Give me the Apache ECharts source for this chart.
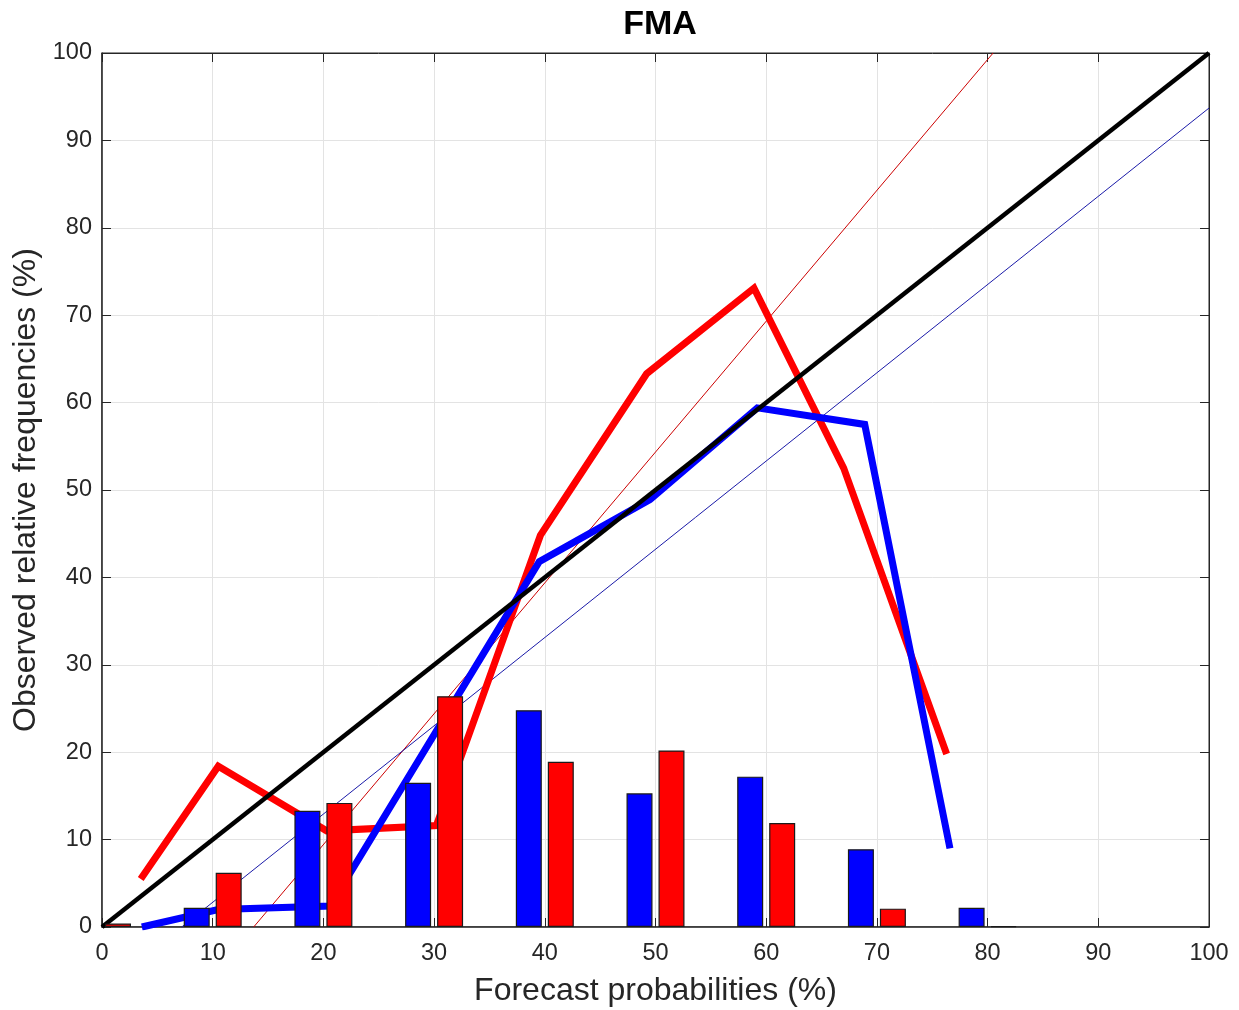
<!DOCTYPE html>
<html>
<head>
<meta charset="utf-8">
<title>FMA</title>
<script src="https://cdn.jsdelivr.net/npm/echarts@6/dist/echarts.min.js"></script>
<style>
    html, body { margin: 0; padding: 0; background: #fff; }
    #chart { width: 1239px; height: 1010px; }
</style>
</head>
<body>
<div id="chart"></div>
<script>
// bins / tick values
var probs = [0, 10, 20, 30, 40, 50, 60, 70, 80, 90, 100];
// histogram bars (%), null = empty bin
var blueBars = [null, 2.2, 13.3, 16.5, 24.8, 15.3, 17.2, 8.9, 2.2, null, null];
var redBars = [0.4, 6.2, 14.2, 26.4, 18.9, 20.2, 11.9, 2.1, 0.1, null, null];

// reliability curves
var redX = [3.5, 10.5, 20.3, 30.2, 39.6, 49.2, 58.9, 67.0, 76.3];
var redY = [5.5, 18.4, 11.0, 11.6, 44.8, 63.3, 73.1, 52.5, 19.8];
var blueX = [3.6, 10.5, 20.6, 39.5, 49.5, 59.2, 68.9, 76.6];
var blueY = [0, 2.0, 2.4, 41.8, 48.9, 59.4, 57.5, 9.0];

// fitted lines (end points)
var redFitX = [13.7, 80.5];
var redFitY = [0, 100];
var blueFitX = [7.2, 100];
var blueFitY = [0, 93.7];
var diagX = [0, 100];
var diagY = [0, 100];

function pairs(xs, ys) {
    var out = [];
    for (var i = 0; i < xs.length; i++) {
        out.push([xs[i], ys[i] == null ? '-' : ys[i]]);
    }
    return out;
}

var chart = echarts.init(document.getElementById('chart'));
var axisColor = '#262626';
var font = 'Liberation Sans, Arial, Helvetica, sans-serif';

chart.setOption({
    animation: false,
    backgroundColor: '#fff',
    title: {
        text: 'FMA',
        left: 655,
        textAlign: 'center',
        top: 3,
        textStyle: {fontFamily: font, fontSize: 34, fontWeight: 'bold', color: '#000'}
    },
    grid: {
        left: 102,
        right: 30,
        top: 53,
        bottom: 83,
        outerBoundsMode: 'none',
        show: true,
        borderColor: axisColor,
        borderWidth: 1
    },
    xAxis: [
        {
            type: 'value',
            min: 0,
            max: 100,
            interval: 10,
            name: 'Forecast probabilities (%)',
            nameLocation: 'middle',
            nameGap: 48,
            nameTextStyle: {fontFamily: font, fontSize: 32, color: axisColor},
            axisLine: {onZero: false, lineStyle: {color: axisColor, width: 1.5}},
            axisTick: {inside: true, length: 9, lineStyle: {color: axisColor}},
            axisLabel: {fontFamily: font, fontSize: 23.5, color: axisColor, margin: 15},
            splitLine: {show: true, lineStyle: {color: '#e3e3e3', width: 1}}
        },
        {
            type: 'value',
            position: 'top',
            min: 0,
            max: 100,
            interval: 10,
            axisLine: {show: true, onZero: false, lineStyle: {color: axisColor}},
            axisTick: {inside: true, length: 9, lineStyle: {color: axisColor}},
            axisLabel: {show: false},
            splitLine: {show: false}
        }
    ],
    yAxis: [
        {
            type: 'value',
            min: 0,
            max: 100,
            interval: 10,
            name: 'Observed relative frequencies (%)',
            nameLocation: 'middle',
            nameGap: 56,
            nameTextStyle: {fontFamily: font, fontSize: 32, color: axisColor},
            axisLine: {show: true, onZero: false, lineStyle: {color: axisColor, width: 1.5}},
            axisTick: {show: true, inside: true, length: 9, lineStyle: {color: axisColor}},
            axisLabel: {fontFamily: font, fontSize: 23.5, color: axisColor, margin: 10},
            splitLine: {show: true, lineStyle: {color: '#e3e3e3', width: 1}}
        },
        {
            type: 'value',
            position: 'right',
            min: 0,
            max: 100,
            interval: 10,
            axisLine: {show: true, onZero: false, lineStyle: {color: axisColor}},
            axisTick: {show: true, inside: true, length: 9, lineStyle: {color: axisColor}},
            axisLabel: {show: false},
            splitLine: {show: false}
        }
    ],
    series: [
        {
            name: 'red fit',
            type: 'line',
            z: 2,
            symbol: 'none',
            data: pairs(redFitX, redFitY),
            lineStyle: {color: '#cc0000', width: 1}
        },
        {
            name: 'blue fit',
            type: 'line',
            z: 2,
            symbol: 'none',
            data: pairs(blueFitX, blueFitY),
            lineStyle: {color: '#1a1aa8', width: 1}
        },
        {
            name: 'red',
            type: 'line',
            z: 3,
            symbol: 'none',
            data: pairs(redX, redY),
            lineStyle: {color: '#ff0000', width: 7, cap: 'butt', join: 'miter'}
        },
        {
            name: 'blue',
            type: 'line',
            z: 3,
            symbol: 'none',
            data: pairs(blueX, blueY),
            lineStyle: {color: '#0000ff', width: 7, cap: 'butt', join: 'miter'}
        },
        {
            name: 'diagonal',
            type: 'line',
            z: 4,
            symbol: 'none',
            data: pairs(diagX, diagY),
            lineStyle: {color: '#000000', width: 4.5}
        },
        {
            name: 'blue bars',
            type: 'bar',
            z: 5,
            barWidth: 26,
            barGap: '23%',
            data: pairs(probs, blueBars),
            itemStyle: {color: '#0000ff', borderColor: '#1a1a1a', borderWidth: 1.2}
        },
        {
            name: 'red bars',
            type: 'bar',
            z: 5,
            barWidth: 26,
            barGap: '23%',
            data: pairs(probs, redBars),
            itemStyle: {color: '#ff0000', borderColor: '#1a1a1a', borderWidth: 1.2}
        }
    ]
});

window.onresize = function () {
    chart.resize();
}
</script>
</body>
</html>
